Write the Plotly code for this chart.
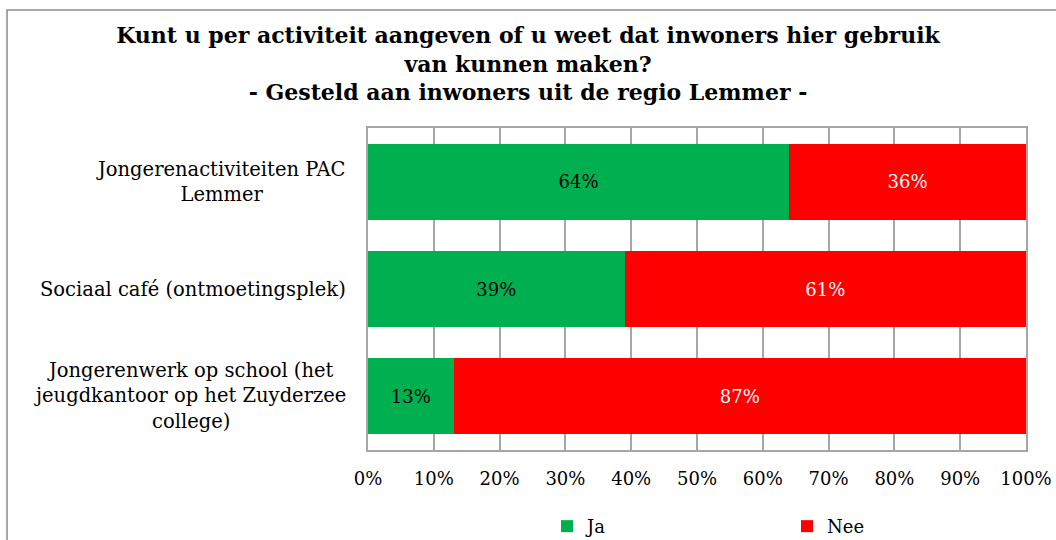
import plotly.graph_objects as go

# Survey data (percentages)
activiteiten = [
    'Jongerenactiviteiten PAC<br>Lemmer',
    'Sociaal café (ontmoetingsplek)',
    'Jongerenwerk op school (het<br>jeugdkantoor op het Zuyderzee<br>college)',
]
ja = [64, 39, 13]
nee = [36, 61, 87]
x_ticks = [0, 10, 20, 30, 40, 50, 60, 70, 80, 90, 100]

font_family = 'Book Antiqua, Palatino Linotype, DejaVu Serif, serif'
grid_color = '#A6A6A6'

fig = go.Figure()

fig.add_trace(go.Bar(
    y=activiteiten, x=ja, name='Ja', orientation='h',
    marker=dict(color='#00B050', line=dict(width=0)),
    text=[f'{v}%' for v in ja], textposition='inside', insidetextanchor='middle',
    textfont=dict(color='black', size=18, family=font_family),
    hoverinfo='skip',
))
fig.add_trace(go.Bar(
    y=activiteiten, x=nee, name='Nee', orientation='h',
    marker=dict(color='#FF0000', line=dict(width=0)),
    text=[f'{v}%' for v in nee], textposition='inside', insidetextanchor='middle',
    textfont=dict(color='white', size=18, family=font_family),
    hoverinfo='skip',
))

# Category labels as centred multi-line annotations (like Excel)
for cat in activiteiten:
    fig.add_annotation(
        x=-0.031, xref='paper', y=cat, yref='y',
        text=cat, showarrow=False, xanchor='right', align='center',
        font=dict(size=19.5, family=font_family, color='black'),
    )

# Outer chart border
fig.add_shape(type='rect', xref='paper', yref='paper',
              x0=-0.5486, y0=-0.6, x1=1.2, y1=1.3665,
              line=dict(color='#8C8C8C', width=1.5), layer='below')

fig.update_layout(
    barmode='stack',
    bargap=0.29,
    width=1056, height=540,
    margin=dict(l=368, r=30, t=128, b=90, autoexpand=False),
    paper_bgcolor='white', plot_bgcolor='white',
    font=dict(family=font_family, size=18, color='black'),
    title=dict(
        text='<b>Kunt u per activiteit aangeven of u weet dat inwoners hier gebruik<br>'
             'van kunnen maken?<br>- Gesteld aan inwoners uit de regio Lemmer -</b>',
        x=0.5, xanchor='center', y=0.92, yanchor='top',
        font=dict(size=22, family=font_family, color='black'),
    ),
    xaxis=dict(
        range=[0, 100], tickvals=x_ticks, ticktext=[f'{v}%' for v in x_ticks],
        showgrid=True, gridcolor=grid_color, gridwidth=1.5,
        showline=True, linecolor=grid_color, linewidth=1.5, mirror=True,
        zeroline=False, ticks='', tickfont=dict(size=18),
        ticklabelstandoff=12,
        automargin=False, fixedrange=True,
    ),
    yaxis=dict(
        autorange='reversed', showticklabels=False,
        showline=True, linecolor=grid_color, linewidth=1.5, mirror=True,
        showgrid=False, ticks='', automargin=False, fixedrange=True,
    ),
    legend=dict(
        orientation='h', traceorder='normal',
        x=0.272, xanchor='left', y=-0.18, yanchor='top',
        entrywidth=195, entrywidthmode='pixels',
        bgcolor='rgba(0,0,0,0)',
        font=dict(size=18), itemclick=False,
    ),
    showlegend=True,
)

fig.write_html('out.html', config={'displayModeBar': False},
               post_script="document.body.style.margin='0';")
